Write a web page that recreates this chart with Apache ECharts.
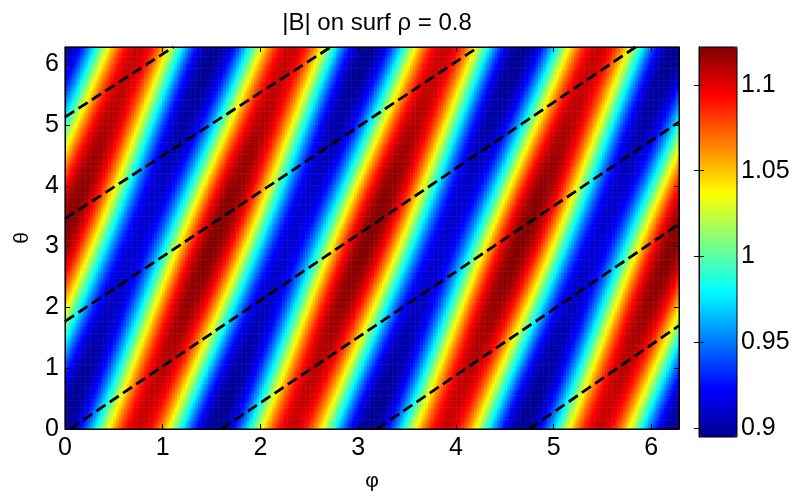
<!DOCTYPE html>
<html>
<head>
<meta charset="utf-8">
<script src="https://cdn.jsdelivr.net/npm/echarts@6/dist/echarts.min.js"></script>
<style>
  html, body { margin: 0; padding: 0; background: #fff; }
  #chart { width: 794px; height: 497px; }
</style>
</head>
<body>
<div id="chart"></div>
<script>
// |B| on the flux surface rho = 0.8, given as a short Fourier series:
// B(theta, phi) = sum amp * cos(m*theta - n*phi + phase)
const modeM     = [0, 1, 1];
const modeN     = [0, 4, 0];
const modeAmp   = [1.0085, 0.105, 0.008];
const modePhase = [0, 3.02, Math.PI];

// evaluation grid (cells along phi and theta)
const phiCells = 240;
const thetaCells = 160;

// dashed field-line segments, start / end in (phi, theta)
const linePhiStart   = [0.05, 1.60, 3.19, 4.75, 0.00, 0.00, 0.00];
const lineThetaStart = [0.00, 0.00, 0.00, 0.00, 1.77, 3.46, 5.13];
const linePhiEnd     = [5.84, 6.2832, 6.2832, 6.2832, 4.23, 2.72, 1.11];
const lineThetaEnd   = [6.2832, 5.05, 3.37, 1.70, 6.2832, 6.2832, 6.2832];

// tick labels
const angleTicks = [0, 1, 2, 3, 4, 5, 6];
const barTicks = [0.9, 0.95, 1, 1.05, 1.1];
const barMin = 0.895;
const barMax = 1.122;

// jet colormap stops
const jet = ['#00008f', '#0000ff', '#0080ff', '#00ffff', '#80ff80',
             '#ffff00', '#ff8000', '#ff0000', '#800000'];

const TWO_PI = 2 * Math.PI;
const FONT = "'Liberation Sans', Arial, sans-serif";

function fieldStrength(theta, phi) {
  let b = 0;
  for (let k = 0; k < modeM.length; k++) {
    b += modeAmp[k] * Math.cos(modeM[k] * theta - modeN[k] * phi + modePhase[k]);
  }
  return b;
}

const phiCats = [];
for (let i = 0; i < phiCells; i++) phiCats.push(String(i));
const thetaCats = [];
for (let j = 0; j < thetaCells; j++) thetaCats.push(String(j));

const cells = [];
for (let j = 0; j < thetaCells; j++) {
  const theta = (j + 0.5) / thetaCells * TWO_PI;
  for (let i = 0; i < phiCells; i++) {
    const phi = (i + 0.5) / phiCells * TWO_PI;
    cells.push([i, j, fieldStrength(theta, phi)]);
  }
}

const lineSeries = linePhiStart.map((p0, k) => ({
  type: 'line',
  xAxisIndex: 1,
  yAxisIndex: 1,
  data: [[p0, lineThetaStart[k]], [linePhiEnd[k], lineThetaEnd[k]]],
  symbol: 'none',
  silent: true,
  z: 5,
  lineStyle: { color: '#000', width: 2.8, type: [11, 5] }
}));

const tickStyle = { show: true, inside: true, length: 5, lineStyle: { color: '#000', width: 1 } };
const labelStyle = { color: '#000', fontSize: 25, fontFamily: FONT };

const option = {
  animation: false,
  backgroundColor: '#fff',
  title: {
    text: '|B| on surf ρ = 0.8',
    left: 372,
    top: 6,
    textAlign: 'center',
    textStyle: { color: '#000', fontSize: 24, fontWeight: 'normal', fontFamily: FONT }
  },
  grid: [
    { left: 65, top: 47, width: 614, height: 389, show: true, borderColor: '#000', borderWidth: 1, backgroundColor: 'transparent', z: 10 },
    { left: 699, top: 47, width: 38, height: 390, show: true, borderColor: '#000', borderWidth: 1, backgroundColor: 'transparent', z: 10 }
  ],
  xAxis: [
    { type: 'category', gridIndex: 0, data: phiCats, show: false, position: 'top', boundaryGap: true },
    {
      type: 'value', gridIndex: 0, min: 0, max: TWO_PI, position: 'bottom', z: 10,
      axisLine: { show: true, lineStyle: { color: '#000', width: 1 } },
      axisTick: Object.assign({ customValues: angleTicks }, tickStyle),
      axisLabel: Object.assign({ customValues: angleTicks, margin: 7 }, labelStyle),
      splitLine: { show: false },
      name: 'φ', nameLocation: 'middle', nameGap: 42,
      nameTextStyle: { color: '#000', fontSize: 21, fontFamily: FONT }
    },
    {
      type: 'value', gridIndex: 0, min: 0, max: TWO_PI, position: 'top', z: 10,
      axisLine: { show: true, lineStyle: { color: '#000', width: 1 } },
      axisTick: Object.assign({ customValues: angleTicks }, tickStyle),
      axisLabel: { show: false },
      splitLine: { show: false }
    },
    {
      type: 'value', gridIndex: 1, min: 0, max: 1, show: false, position: 'bottom'
    }
  ],
  yAxis: [
    { type: 'category', gridIndex: 0, data: thetaCats, show: false, position: 'right', boundaryGap: true },
    {
      type: 'value', gridIndex: 0, min: 0, max: TWO_PI, position: 'left', z: 10,
      axisLine: { show: true, lineStyle: { color: '#000', width: 1 } },
      axisTick: Object.assign({ customValues: angleTicks }, tickStyle),
      axisLabel: Object.assign({ customValues: angleTicks, margin: 6 }, labelStyle),
      splitLine: { show: false },
      name: 'θ', nameLocation: 'middle', nameGap: 32, nameRotate: 90,
      nameTextStyle: { color: '#000', fontSize: 21, fontFamily: FONT }
    },
    {
      type: 'value', gridIndex: 0, min: 0, max: TWO_PI, position: 'right', z: 10,
      axisLine: { show: true, lineStyle: { color: '#000', width: 1 } },
      axisTick: Object.assign({ customValues: angleTicks }, tickStyle),
      axisLabel: { show: false },
      splitLine: { show: false }
    },
    {
      type: 'value', gridIndex: 1, min: barMin, max: barMax, position: 'right', z: 10,
      axisLine: { show: true, lineStyle: { color: '#000', width: 1 } },
      axisTick: Object.assign({ customValues: barTicks }, tickStyle),
      axisLabel: Object.assign({ customValues: barTicks, margin: 4 }, labelStyle),
      splitLine: { show: false }
    },
    {
      type: 'value', gridIndex: 1, min: barMin, max: barMax, position: 'left', z: 10,
      axisLine: { show: true, lineStyle: { color: '#000', width: 1 } },
      axisTick: Object.assign({ customValues: barTicks }, tickStyle),
      axisLabel: { show: false },
      splitLine: { show: false }
    }
  ],
  visualMap: {
    type: 'continuous',
    seriesIndex: 0,
    min: barMin,
    max: barMax,
    calculable: false,
    orient: 'vertical',
    left: 699,
    top: 47,
    itemWidth: 38,
    itemHeight: 390,
    padding: 0,
    inRange: { color: jet }
  },
  series: [
    {
      type: 'heatmap',
      xAxisIndex: 0,
      yAxisIndex: 0,
      data: cells,
      progressive: 0,
      silent: true,
      itemStyle: { borderWidth: 0 },
      emphasis: { disabled: true }
    }
  ].concat(lineSeries)
};

const chart = echarts.init(document.getElementById('chart'), null, { renderer: 'canvas' });
chart.setOption(option);
</script>
</body>
</html>
